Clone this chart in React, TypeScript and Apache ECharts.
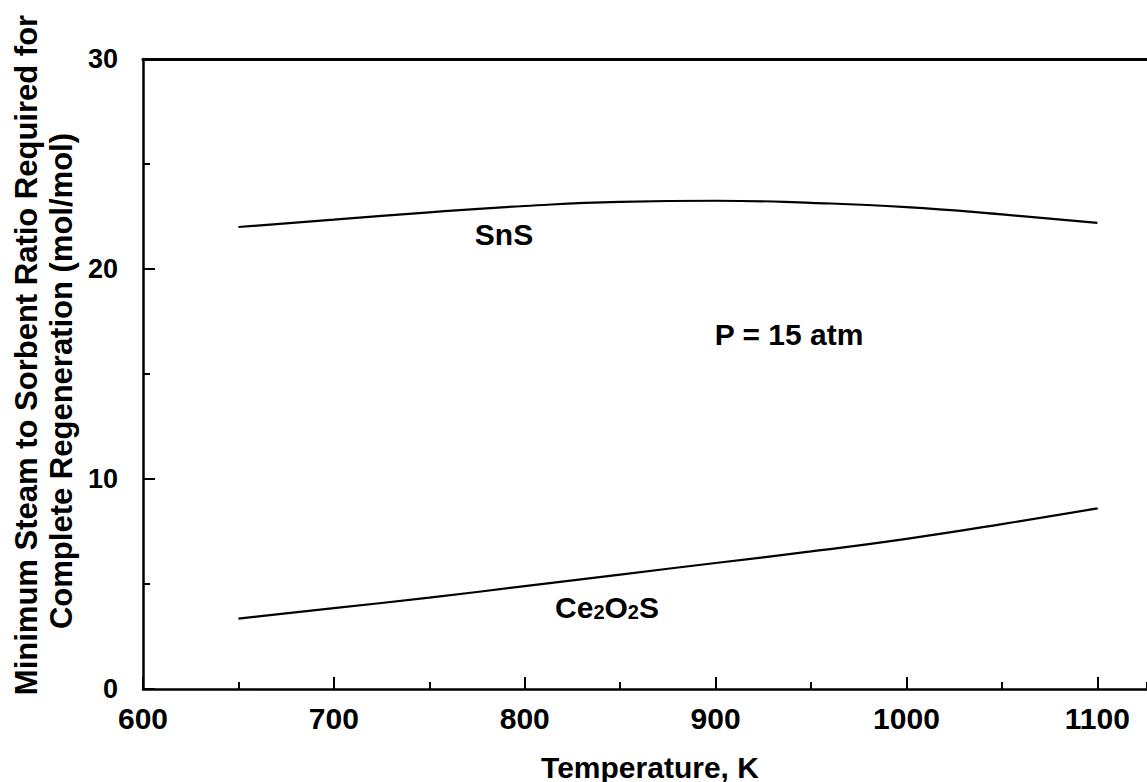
import React, { useEffect, useRef } from "react";
import * as echarts from "echarts";

const temps = [650, 700, 750, 800, 850, 900, 950, 1000, 1050, 1100];
const snsRatio = [22.0, 22.35, 22.7, 23.0, 23.2, 23.25, 23.15, 22.95, 22.6, 22.2];
const ceRatio = [3.35, 3.85, 4.35, 4.9, 5.45, 6.0, 6.55, 7.15, 7.85, 8.6];
const xTitle = "Temperature, K";
const yTitleLine1 = "Minimum Steam to Sorbent Ratio Required for";
const yTitleLine2 = "Complete Regeneration (mol/mol)";
const labelSnS = "SnS";
const labelP = "P = 15 atm";

const FONT = '"Liberation Sans", Arial, Helvetica, sans-serif';
const X_MAX = 1126;

export default function App() {
  const ref = useRef<HTMLDivElement>(null);
  useEffect(() => {
    if (!ref.current) return;
    const chart = echarts.init(ref.current, undefined, { renderer: "svg" });
    const pair = (ys: number[]) => temps.map((t, i) => [t, ys[i]]);
    const textStyle = (text: string) => ({
      text,
      fontSize: 30,
      fontWeight: "bold",
      fontFamily: FONT,
      fill: "#000",
      align: "center",
      verticalAlign: "middle",
    });
    chart.setOption({
      animation: false,
      backgroundColor: "#fff",
      grid: { left: 143, top: 59, bottom: 93, right: -3, containLabel: false },
      xAxis: [
        {
          type: "value",
          position: "bottom",
          min: 600,
          max: X_MAX,
          interval: 100,
          axisLine: { show: true, lineStyle: { color: "#000", width: 2.5 } },
          axisTick: { show: true, inside: true, length: 12, lineStyle: { color: "#000", width: 2 } },
          axisLabel: {
            show: true,
            margin: 14,
            showMaxLabel: false,
            color: "#000",
            fontSize: 30,
            fontWeight: "bold",
            fontFamily: FONT,
            formatter: (v: number) => (v % 100 === 0 ? String(v) : ""),
          },
          splitLine: { show: false },
        },
        {
          type: "value",
          position: "bottom",
          min: 600,
          max: X_MAX,
          interval: 50,
          axisLine: { show: false },
          axisTick: { show: true, inside: true, length: 7, lineStyle: { color: "#000", width: 2 } },
          axisLabel: { show: false },
          splitLine: { show: false },
        },
        {
          type: "value",
          position: "top",
          min: 600,
          max: X_MAX,
          axisLine: { show: true, lineStyle: { color: "#000", width: 3 } },
          axisTick: { show: false },
          axisLabel: { show: false },
          splitLine: { show: false },
        },
      ],
      yAxis: {
        type: "value",
        min: 0,
        max: 30,
        interval: 10,
        axisLine: { show: true, lineStyle: { color: "#000", width: 2.5 } },
        axisTick: { show: true, inside: true, length: 12, lineStyle: { color: "#000", width: 2 } },
        minorTick: { show: true, splitNumber: 2, length: 7, lineStyle: { color: "#000", width: 2 } },
        axisLabel: {
          margin: 25,
          color: "#000",
          fontSize: 27,
          fontWeight: "bold",
          fontFamily: FONT,
        },
        splitLine: { show: false },
        minorSplitLine: { show: false },
      },
      series: [
        {
          type: "line",
          name: "SnS",
          xAxisIndex: 0,
          data: pair(snsRatio),
          smooth: true,
          showSymbol: false,
          lineStyle: { color: "#000", width: 2.2 },
        },
        {
          type: "line",
          name: "Ce2O2S",
          xAxisIndex: 0,
          data: pair(ceRatio),
          smooth: true,
          showSymbol: false,
          lineStyle: { color: "#000", width: 2.2 },
        },
      ],
      graphic: [
        { type: "text", x: 504, y: 234, style: textStyle(labelSnS) },
        { type: "text", x: 789, y: 334, style: textStyle(labelP) },
        {
          type: "text",
          x: 607,
          y: 607,
          style: {
            text: "{b|Ce}{s|2}{b|O}{s|2}{b|S}",
            align: "center",
            verticalAlign: "middle",
            rich: {
              b: { fontSize: 30, fontWeight: "bold", fontFamily: FONT, fill: "#000", lineHeight: 30, verticalAlign: "bottom" },
              s: { fontSize: 20, fontWeight: "bold", fontFamily: FONT, fill: "#000", lineHeight: 20, verticalAlign: "bottom" },
            },
          },
        },
        { type: "text", x: 650, y: 767, style: textStyle(xTitle) },
        { type: "text", x: 26, y: 355, rotation: Math.PI / 2, style: { ...textStyle(yTitleLine1), fontSize: 31 } },
        { type: "text", x: 61, y: 381, rotation: Math.PI / 2, style: { ...textStyle(yTitleLine2), fontSize: 31 } },
      ],
    });
    return () => chart.dispose();
  }, []);
  return (
    <div
      ref={ref}
      style={{ position: "absolute", left: 0, top: 0, width: 1147, height: 782, background: "#fff" }}
    />
  );
}
